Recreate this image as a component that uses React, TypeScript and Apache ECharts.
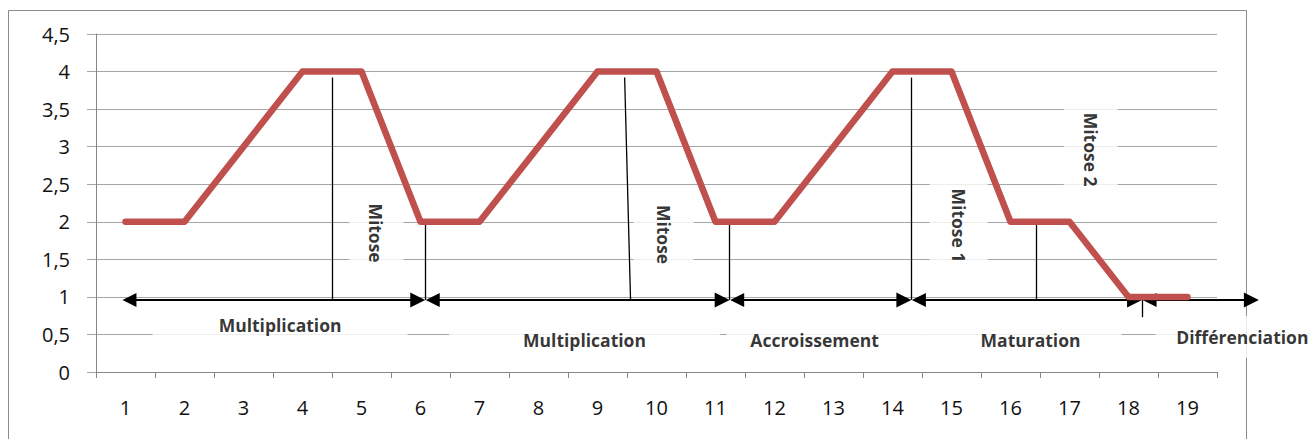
import React, { useEffect, useRef } from 'react';
import * as echarts from 'echarts';

// ---- data ----
const categories = ['1', '2', '3', '4', '5', '6', '7', '8', '9', '10', '11', '12', '13', '14', '15', '16', '17', '18', '19'];
const cellValues = [2, 2, 3, 4, 4, 2, 2, 3, 4, 4, 2, 2, 3, 4, 4, 2, 2, 1, 1];
const yMin = 0;
const yMax = 4.5;
const yStep = 0.5;

// annotation positions in axis units (x: category number, y: value)
const arrowLevel = 0.96;
const arrowSpans = [
  [0.94, 6.08],
  [6.08, 11.24],
  [11.24, 14.32],
  [14.32, 18.23],
  [18.23, 20.21],
];
const markerLines = [
  [[4.5, 3.92], [4.5, 0.96]],
  [[6.08, 1.96], [6.08, 0.96]],
  [[9.46, 3.92], [9.56, 0.96]],
  [[11.24, 1.96], [11.24, 0.96]],
  [[14.32, 3.92], [14.32, 0.96]],
  [[16.43, 1.96], [16.43, 0.96]],
  [[18.23, 0.96], [18.23, 0.73]],
];
const phaseNames = ['Multiplication', 'Multiplication', 'Accroissement', 'Maturation', 'Différenciation'];
const phaseX = [3.62, 8.78, 12.68, 16.34, 19.93];
const phaseY = [0.62, 0.427, 0.427, 0.427, 0.427];
const mitoseNames = ['Mitose', 'Mitose', 'Mitose 1', 'Mitose 2'];
const mitoseX = [5.15, 10.07, 15.07, 17.31];
const mitoseY = [1.85, 1.83, 1.95, 2.96];

// ---- styles ----
const W = 1314;
const H = 439;
const GRID = { left: 96, right: 97, top: 34, bottom: 67 };
const FONT = 'Open Sans';
const ARROW_W = 14;
const ARROW_L = 15;
// [top, right, bottom, left] before rotation
const phasePadding = [
  [6, 66, 6, 66],
  [6, 74, 6, 74],
  [6, 42, 6, 24],
  [6, 41, 6, 60],
  [15, 60, 9, 21],
];
const mitosePadding = [
  [24, 14, 12, 13],
  [24, 12, 18, 15],
  [23, 10, 17, 16],
  [21, 15, 15, 20],
];

export default function App() {
  const ref = useRef<HTMLDivElement>(null);

  useEffect(() => {
    if (!ref.current) return;
    const chart = echarts.init(ref.current, undefined, { renderer: 'svg' });
    const unitPx = (W - GRID.left - GRID.right) / categories.length;
    const valPx = (H - GRID.top - GRID.bottom) / (yMax - yMin);
    const inset = ARROW_L / 2 / unitPx;

    const labelBase = {
      show: true,
      position: 'inside',
      color: '#000',
      fontFamily: FONT,
      fontWeight: 'bold',
      fontSize: 17.5,
      backgroundColor: '#ffffff',
    };

    // the padded box is centred on the point: shift the point so the text sits at the target
    const labelData = [
      ...phaseNames.map((n, i) => {
        const [t, r, b, l] = phasePadding[i];
        const dx = (l - r) / 2; // screen px
        const dy = (t - b) / 2; // screen px (down)
        return {
          value: [phaseX[i] - dx / unitPx, phaseY[i] + dy / valPx],
          label: { ...labelBase, formatter: n, padding: phasePadding[i] },
        };
      }),
      ...mitoseNames.map((n, i) => {
        const [t, r, b, l] = mitosePadding[i];
        const sx = -(t - b) / 2; // screen px after clockwise rotation
        const sy = (l - r) / 2;
        return {
          value: [mitoseX[i] - sx / unitPx, mitoseY[i] + sy / valPx],
          label: { ...labelBase, formatter: n, rotate: -90, padding: mitosePadding[i] },
        };
      }),
    ];

    chart.setOption({
      animation: false,
      grid: { ...GRID },
      graphic: [
        {
          type: 'rect',
          z: 1,
          silent: true,
          shape: { x: 8.5, y: 10.5, width: 1238, height: 600 },
          style: { fill: 'none', stroke: '#8c8c8c', lineWidth: 1 },
        },
      ],
      xAxis: [
        {
          type: 'category',
          data: categories,
          boundaryGap: true,
          axisLine: { show: true, lineStyle: { color: '#868686', width: 1 } },
          axisTick: { show: true, alignWithLabel: false, interval: 0, length: 6, lineStyle: { color: '#868686' } },
          axisLabel: { interval: 0, margin: 25, fontSize: 20, fontFamily: FONT, color: '#111' },
          splitLine: { show: false },
        },
        { type: 'value', min: 0.5, max: 19.5, show: false },
      ],
      yAxis: {
        type: 'value',
        min: yMin,
        max: yMax,
        interval: yStep,
        axisLine: { show: true, lineStyle: { color: '#868686', width: 1 } },
        axisTick: { show: true, length: 9, lineStyle: { color: '#a6a6a6' } },
        axisLabel: {
          margin: 26,
          fontSize: 20,
          fontFamily: FONT,
          color: '#111',
          formatter: (v: number) => String(v).replace('.', ','),
        },
        splitLine: { show: true, lineStyle: { color: '#a6a6a6', width: 1 } },
      },
      series: [
        {
          type: 'scatter',
          xAxisIndex: 1,
          yAxisIndex: 0,
          clip: false,
          silent: true,
          z: 3,
          symbol: 'circle',
          symbolSize: 1,
          itemStyle: { color: 'rgba(0,0,0,0)' },
          data: labelData,
        },
        {
          type: 'lines',
          coordinateSystem: 'cartesian2d',
          xAxisIndex: 1,
          yAxisIndex: 0,
          clip: false,
          silent: true,
          z: 4,
          symbol: ['none', 'none'],
          lineStyle: { color: '#000', width: 1.3, opacity: 1 },
          data: markerLines.map((c) => ({ coords: c })),
        },
        {
          type: 'lines',
          coordinateSystem: 'cartesian2d',
          xAxisIndex: 1,
          yAxisIndex: 0,
          clip: false,
          silent: true,
          z: 4,
          symbol: ['triangle', 'triangle'],
          symbolSize: [ARROW_W, ARROW_L],
          lineStyle: { color: '#000', width: 1.8, opacity: 1 },
          data: arrowSpans.map(([a, b]) => ({
            coords: [
              [a + inset, arrowLevel],
              [b - inset, arrowLevel],
            ],
          })),
        },
        {
          type: 'line',
          xAxisIndex: 0,
          yAxisIndex: 0,
          z: 10,
          silent: true,
          data: cellValues,
          showSymbol: false,
          symbol: 'none',
          lineStyle: { color: '#C0504D', width: 6.5, cap: 'round', join: 'round' },
        },
      ],
    });
    return () => chart.dispose();
  }, []);

  return (
    <div
      ref={ref}
      style={{ position: 'fixed', left: 0, top: 0, width: W, height: H, background: '#fff' }}
    />
  );
}
